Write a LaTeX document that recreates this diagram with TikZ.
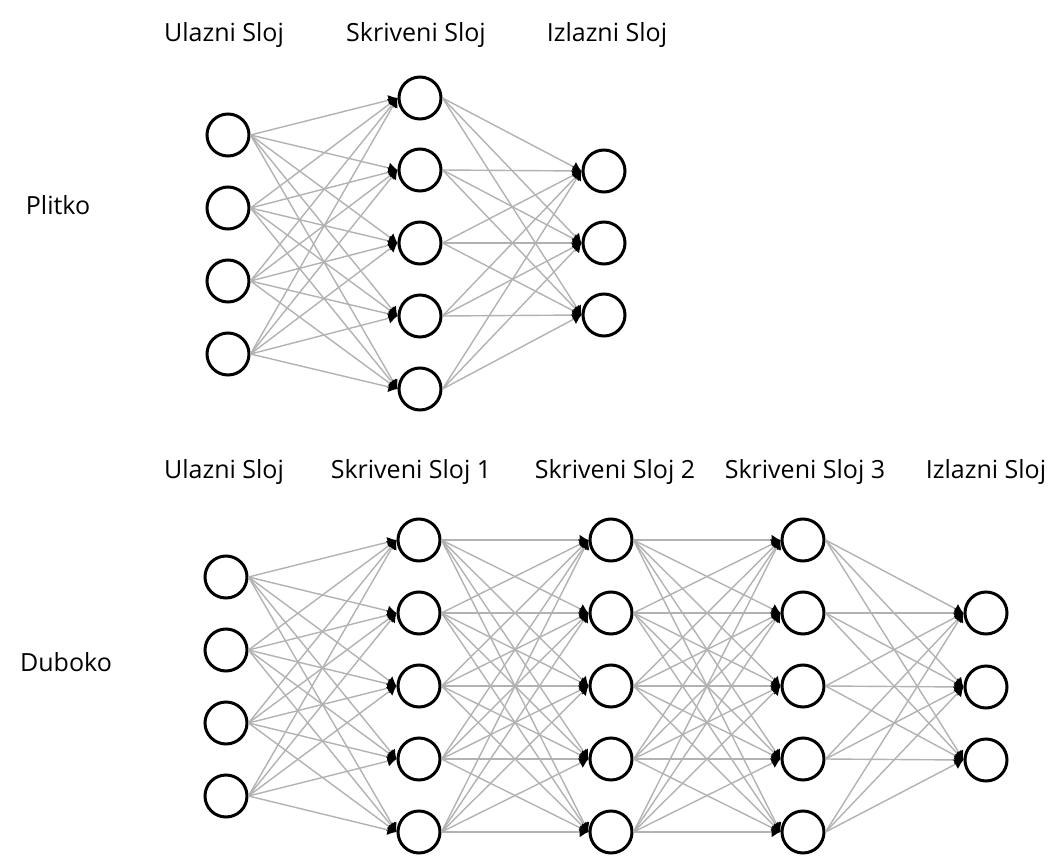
\documentclass[tikz,border=0pt]{standalone}
\usepackage{fontspec}
\setmainfont{Open Sans}
\usetikzlibrary{arrows.meta}

\begin{document}
\begin{tikzpicture}[x=1pt,y=-1pt,>={Latex[length=9pt,width=11pt,color=black]}]
  \tikzset{neuron/.style={circle, inner sep=0pt, draw, line width=3pt, minimum size=42pt},
    veza/.style={->, draw=black!30, line width=1.4pt},
    naslov/.style={font=\fontsize{25}{29}\selectfont}}
  \useasboundingbox (0,0) rectangle (1055,856);

  % plitka mreza
  \node[naslov] (tUl) at (224,35) {Ulazni Sloj};
  \node[naslov] (tSk) at (416,35) {Skriveni Sloj};
  \node[naslov] (tIz) at (607,35) {Izlazni Sloj};
  \node[naslov] (plitko) at (58,205) {Plitko};

  \foreach \i/\y in {1/135,2/208,3/281,4/354}
    \node[neuron] (pu\i) at (228,\y) {};
  \foreach \i/\y in {1/98,2/170,3/243,4/316,5/389}
    \node[neuron] (ps\i) at (420,\y) {};
  \foreach \i/\y in {1/171,2/243,3/315}
    \node[neuron] (pi\i) at (604,\y) {};

  \foreach \i in {1,...,4}
    \foreach \j in {1,...,5}
      \draw[veza] (pu\i.east) -- (ps\j.west);
  \foreach \i in {1,...,5}
    \foreach \j in {1,...,3}
      \draw[veza] (ps\i.east) -- (pi\j.west);

  % duboka mreza
  \node[naslov] (bUl) at (224,472) {Ulazni Sloj};
  \node[naslov] (bSa) at (411,472) {Skriveni Sloj 1};
  \node[naslov] (bSb) at (615,472) {Skriveni Sloj 2};
  \node[naslov] (bSc) at (805,472) {Skriveni Sloj 3};
  \node[naslov] (bIz) at (986,472) {Izlazni Sloj};
  \node[naslov] (duboko) at (66,662) {Duboko};

  \foreach \i/\y in {1/577,2/650,3/723,4/796}
    \node[neuron] (du\i) at (226,\y) {};
  \foreach \i/\y in {1/540,2/613,3/686,4/759,5/832} {
    \node[neuron] (da\i) at (419,\y) {};
    \node[neuron] (db\i) at (611,\y) {};
    \node[neuron] (dc\i) at (803,\y) {};
  }
  \foreach \i/\y in {1/613,2/687,3/760}
    \node[neuron] (di\i) at (986,\y) {};

  \foreach \i in {1,...,4}
    \foreach \j in {1,...,5}
      \draw[veza] (du\i.east) -- (da\j.west);
  \foreach \i in {1,...,5}
    \foreach \j in {1,...,5} {
      \draw[veza] (da\i.east) -- (db\j.west);
      \draw[veza] (db\i.east) -- (dc\j.west);
    }
  \foreach \i in {1,...,5}
    \foreach \j in {1,...,3}
      \draw[veza] (dc\i.east) -- (di\j.west);
\end{tikzpicture}
\end{document}
